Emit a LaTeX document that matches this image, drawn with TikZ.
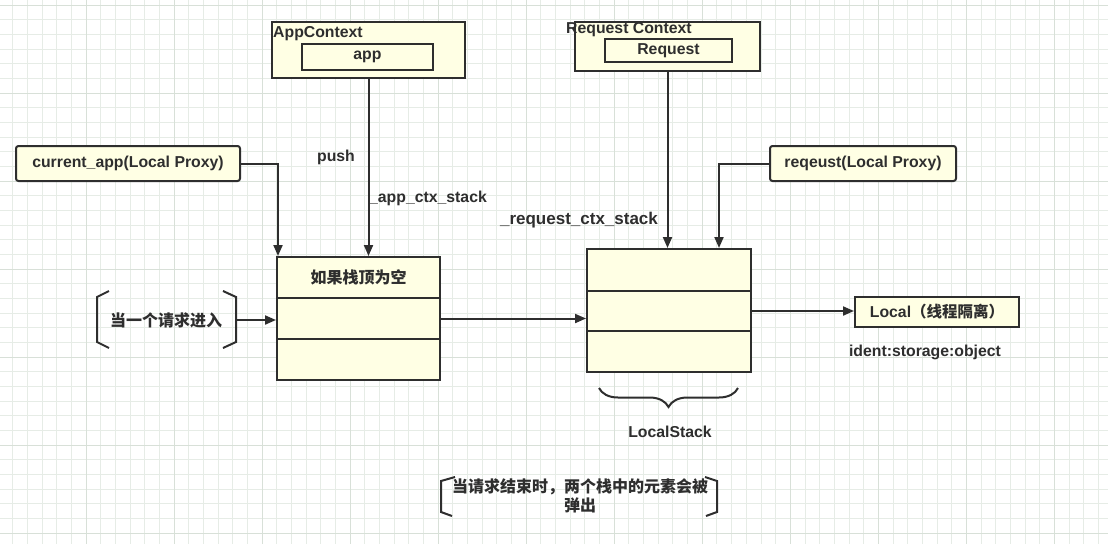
\documentclass[tikz,border=0pt]{standalone}
\usepackage{fontspec}
\setmainfont{Liberation Sans}
\newfontfamily\cjk{Noto Sans CJK SC}
\usetikzlibrary{arrows.meta,decorations.pathreplacing}
\definecolor{boxfill}{HTML}{FFFFE4}
\definecolor{edge}{HTML}{2E2E2E}
\definecolor{gridc}{HTML}{E6ECE6}
\definecolor{gridm}{HTML}{D8E0D8}
\tikzset{
  x=1pt, y=-1pt,
  lbl/.style={font=\bfseries\fontsize{15.8}{18}\selectfont, text=edge, inner sep=0pt},
  cjklbl/.style={font=\cjk\bfseries\fontsize{16}{19.5}\selectfont, text=edge, inner sep=0pt, align=center},
  box/.style={draw=edge, line width=2pt, fill=boxfill, inner sep=0pt},
  rbox/.style={box, rounded corners=2.5pt},
  conn/.style={draw=edge, line width=2pt},
  arr/.style={conn, -{Triangle[length=11pt,width=9pt]}},
}
\begin{document}
\begin{tikzpicture}
\useasboundingbox (0,0) rectangle (1108,544);
\fill[white] (0,0) rectangle (1108,544);
% grid
\foreach \i in {0,...,76} {
  \draw[gridc, line width=0.7pt] ({-2+\i*14.67},0) -- ({-2+\i*14.67},544);
}
\foreach \j in {0,...,38} {
  \draw[gridc, line width=0.7pt] (0,{5+\j*14.67}) -- (1108,{5+\j*14.67});
}
\foreach \i in {0,...,13} {
  \draw[gridm, line width=1pt] ({-2+\i*88},0) -- ({-2+\i*88},544);
}
\foreach \j in {0,...,6} {
  \draw[gridm, line width=1pt] (0,{5+\j*88}) -- (1108,{5+\j*88});
}

% AppContext
\node[box, minimum width=193pt, minimum height=56pt] (appctx) at (368.5,50) {};
\node[lbl, anchor=north west] (appctxl) at (273,26) {AppContext};
\node[box, minimum width=131pt, minimum height=26pt, lbl] (app) at (367.5,57) {app};

% Request Context
\node[box, minimum width=185pt, minimum height=49pt] (reqctx) at (667.5,46.5) {};
\node[lbl, anchor=north west] (reqctxl) at (566,22) {Request Context};
\node[box, minimum width=127pt, minimum height=23pt, lbl] (req) at (668.5,50.5) {Request};

% proxies
\node[rbox, minimum width=224pt, minimum height=35pt, lbl] (cur) at (128,163.5) {current\_app(Local Proxy)};
\node[rbox, minimum width=186pt, minimum height=35pt, lbl] (rqp) at (863,163.5) {reqeust(Local Proxy)};

% left stack
\node[box, minimum width=163pt, minimum height=41pt, cjklbl] (ls1) at (358.5,277.5) {如果栈顶为空};
\node[box, minimum width=163pt, minimum height=41pt] (ls2) at (358.5,318.5) {};
\node[box, minimum width=163pt, minimum height=41pt] (ls3) at (358.5,359.5) {};

% right stack
\node[box, minimum width=164pt, minimum height=42pt] (rs1) at (669,270) {};
\node[box, minimum width=164pt, minimum height=40pt] (rs2) at (669,311) {};
\node[box, minimum width=164pt, minimum height=41pt] (rs3) at (669,351.5) {};

% Local
\node[box, minimum width=164pt, minimum height=30pt, lbl] (local) at (937,312) {Local{\cjk\fontsize{15.5}{18}\selectfont（线程隔离）}};
\node[lbl, anchor=center] (ident) at (925,352) {ident:storage:object};

% entry note
\node[cjklbl] (entry) at (166,320) {当一个请求进入};
\coordinate (eR) at (236,320);
\draw[conn] (109,291) -- (97,297) -- (97,342) -- (109,348);
\draw[conn] (223,291) -- (236,297) -- (236,342) -- (223,348);

% end note
\node[cjklbl] (endnote) at (580,496) {当请求结束时，两个栈中的元素会被\\弹出};
\draw[conn] (455,477) -- (441,481) -- (441,512) -- (452,516);
\draw[conn] (705,477) -- (717,481) -- (717,512) -- (706,516);

% brace
\coordinate (bl) at (599,388);
\coordinate (br) at (738,388);
\draw[conn, decorate, decoration={brace, mirror, amplitude=19pt, aspect=0.5}] (bl) -- (br);
\node[lbl] (lstk) at (670,432) {LocalStack};

% labels on arrows
\node[lbl] (push) at (336,157) {push};
\node[lbl] (appstk) at (428,198) {\_app\_ctx\_stack};
\node[lbl, font=\bfseries\fontsize{17}{19}\selectfont] (reqstk) at (579,220) {\_request\_ctx\_stack};

% connectors
\draw[arr] (appctx.south) -- (appctx.south |- ls1.north);
\draw[arr] (reqctx.south) -- (reqctx.south |- rs1.north);
\draw[arr] (cur.east) -| ([xshift=2pt]ls1.north west);
\draw[arr] (rqp.west) -| ([xshift=-33pt]rs1.north east);
\draw[arr] (eR) -- (eR -| ls2.west);
\draw[arr] (ls2.east) -- (ls2.east -| rs2.west);
\draw[arr] (rs2.east) -- (rs2.east -| local.west);
\end{tikzpicture}
\end{document}
